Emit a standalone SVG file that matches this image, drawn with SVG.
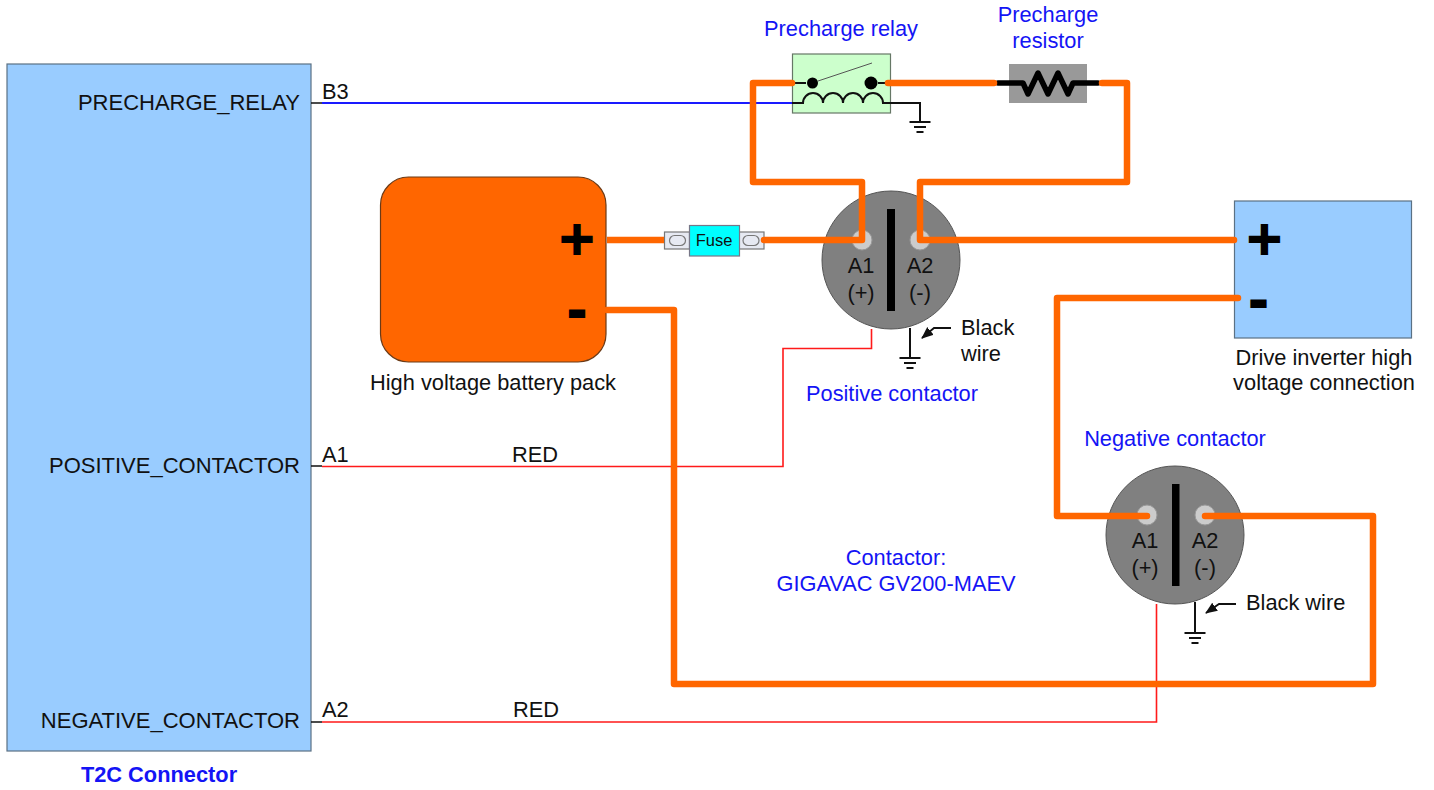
<svg xmlns="http://www.w3.org/2000/svg" width="1434" height="790" viewBox="0 0 1434 790">
<style>
text{font-family:"Liberation Sans",Arial,sans-serif;font-size:21.800px;fill:#111}
.b{fill:#1414f5}
.m{text-anchor:middle}
.e{text-anchor:end;font-size:22px}
.sym{font-family:"DejaVu Sans",sans-serif;font-weight:bold;font-size:47px;fill:#000;stroke:#000;stroke-width:1.800;text-anchor:middle}
.hv{fill:none;stroke:#ff6600;stroke-width:6.5;stroke-linejoin:round;stroke-linecap:round}
.red{fill:none;stroke:#ff1a1a;stroke-width:1.6}
.blk{fill:none;stroke:#111;stroke-width:2}
.body{fill:#808080;stroke:#555;stroke-width:1}
.term{fill:#cccccc;stroke:#999;stroke-width:1}
.tab{fill:#e6e9f2;stroke:#777;stroke-width:1.2}
</style>
<defs>
<g id="gnd"><path class="blk" d="M-10.500 0H10.500M-6 5H6M-3.500 10H3.500"/></g>
<marker id="ah" markerWidth="14" markerHeight="12" refX="11" refY="5" orient="auto" markerUnits="userSpaceOnUse"><path d="M0 0L12 5L0 10Z" fill="#111"/></marker>
</defs>
<rect width="1434" height="790" fill="#fff"/>

<g id="t2c">
<rect x="7" y="64" width="304" height="687" fill="#99ccff" stroke="#5b7184" stroke-width="1.200"/>
<text class="e" x="300" y="110">PRECHARGE_RELAY</text>
<text class="e" x="300" y="473">POSITIVE_CONTACTOR</text>
<text class="e" x="300" y="728">NEGATIVE_CONTACTOR</text>
<text class="b m" x="159" y="782" style="font-weight:bold">T2C Connector</text>
</g>

<g id="battery">
<rect x="380.500" y="177" width="225.500" height="185" rx="28" fill="#ff6600" stroke="#6b3a16" stroke-width="1.200"/>
<text class="sym" x="577" y="254">+</text>
<text class="sym" x="577" y="327">-</text>
<text class="m" x="493" y="390">High voltage battery pack</text>
</g>

<g id="fuse">
<rect class="tab" x="664.500" y="232" width="25" height="17"/>
<rect class="tab" x="739" y="232" width="25" height="17"/>
<rect class="tab" x="669.500" y="235.500" width="16" height="10" rx="5"/>
<rect class="tab" x="743" y="235.500" width="16" height="10" rx="5"/>
<rect x="689.500" y="225.500" width="50" height="30.500" fill="#00ffff" stroke="#778" stroke-width="1.200"/>
<text class="m" x="714" y="246" style="font-size:16.500px">Fuse</text>
</g>

<g id="precharge-relay">
<rect x="792.500" y="54" width="98" height="59" fill="#ccffcc" stroke="#667766" stroke-width="1.200"/>
<path class="blk" d="M792 83H806M878 83H891"/>
<path d="M818 81L872 63" fill="none" stroke="#555" stroke-width="1"/>
<circle cx="812.500" cy="83" r="5.500" fill="#000"/>
<circle cx="871" cy="83" r="6.500" fill="#000"/>
<path class="blk" d="M792 103H803A10 10 0 0 1 823 103A10 10 0 0 1 843 103A10 10 0 0 1 863 103A10 10 0 0 1 883 103H920V122"/>
<use href="#gnd" x="920" y="122"/>
<text class="b m" x="841" y="36">Precharge relay</text>
</g>

<g id="precharge-resistor">
<rect x="1009" y="64" width="78" height="39" fill="#999999"/>
<path d="M998 83H1023L1028 94L1038 73L1048 94L1058 73L1068 94L1073 83H1098" fill="none" stroke="#000" stroke-width="5.500" stroke-linecap="round" stroke-linejoin="round"/>
<text class="b m" x="1048" y="22">Precharge</text>
<text class="b m" x="1048" y="48">resistor</text>
</g>

<g id="positive-contactor">
<circle class="body" cx="891" cy="260" r="69"/>
<rect x="887" y="209" width="8" height="102" fill="#000"/>
<circle class="term" cx="862" cy="240" r="10"/>
<circle class="term" cx="920" cy="240" r="10"/>
<text class="m" x="861" y="273">A1</text>
<text class="m" x="861" y="300">(+)</text>
<text class="m" x="920" y="273">A2</text>
<text class="m" x="920" y="300">(-)</text>
<path class="blk" d="M910 328V357"/>
<use href="#gnd" x="910" y="358"/>
<path d="M951 328H934L922 338" fill="none" stroke="#111" stroke-width="1.800" marker-end="url(#ah)"/>
<text x="961" y="335">Black</text>
<text x="961" y="361">wire</text>
<text class="b m" x="892" y="401">Positive contactor</text>
</g>

<g id="negative-contactor">
<circle class="body" cx="1175" cy="535" r="69"/>
<rect x="1172" y="484" width="7.500" height="102" fill="#000"/>
<circle class="term" cx="1147" cy="515" r="10"/>
<circle class="term" cx="1205" cy="515" r="10"/>
<text class="m" x="1145" y="548">A1</text>
<text class="m" x="1145" y="575">(+)</text>
<text class="m" x="1205" y="548">A2</text>
<text class="m" x="1205" y="575">(-)</text>
<path class="blk" d="M1195 602V632"/>
<use href="#gnd" x="1195" y="633"/>
<path d="M1236 604H1219L1206 613" fill="none" stroke="#111" stroke-width="1.800" marker-end="url(#ah)"/>
<text x="1246" y="610">Black wire</text>
<text class="b m" x="1175" y="446">Negative contactor</text>
</g>

<g id="inverter">
<rect x="1234.500" y="201" width="177" height="137" fill="#99ccff" stroke="#5b7184" stroke-width="1.200"/>
<text class="sym" x="1264.500" y="254">+</text>
<text class="sym" x="1258.500" y="317">-</text>
<text class="m" x="1324" y="365">Drive inverter high</text>
<text class="m" x="1324" y="390">voltage connection</text>
</g>

<g id="contactor-note">
<text class="b m" x="896" y="565">Contactor:</text>
<text class="b m" x="896" y="591">GIGAVAC GV200-MAEV</text>
</g>

<g id="connectors">
<path d="M311 103H322M311 466H322M311 722H322" class="blk" style="stroke-width:1.500"/>
<path d="M322 103H792" fill="none" stroke="#1a1aff" stroke-width="2"/>
<path class="red" d="M322 466.500H783V348.500H871.500V329"/>
<path class="red" d="M322 722H1156.500V604"/>
<path class="hv" d="M792 83H753V182H862V240H764"/>
<path d="M664 240H607" class="hv" style="stroke-linecap:butt"/>
<path class="hv" d="M888 83H994"/>
<path class="hv" d="M1102 83H1127V182H920V240H1234"/>
<path class="hv" d="M1238 298H1057V516H1147"/>
<path class="hv" d="M1205 516H1373V684H674V310H607"/>
<text x="322" y="99">B3</text>
<text x="322" y="462">A1</text>
<text x="322" y="717">A2</text>
<text x="512" y="462">RED</text>
<text x="513" y="717">RED</text>
</g>
</svg>
